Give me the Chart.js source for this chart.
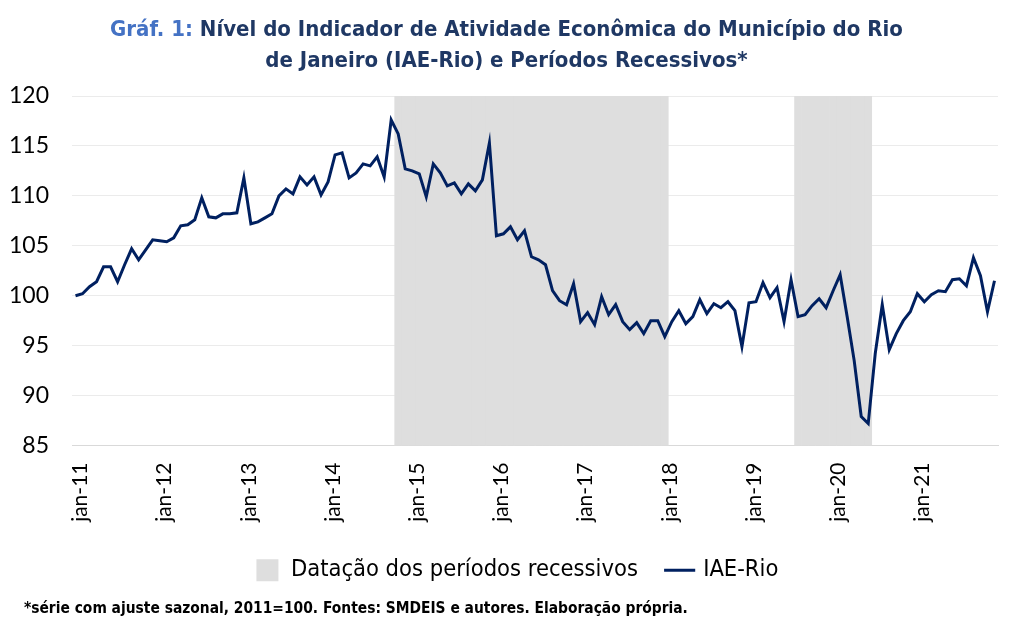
<!DOCTYPE html>
<html lang="pt-BR">
<head>
  <meta charset="UTF-8">
  <title>IAE-Rio e Períodos Recessivos</title>
  <style>
    body { margin: 0; background: #fff; overflow: hidden; }
    #wrap { position: relative; width: 1013px; height: 633px; }
    #titulo { position: absolute; left: 0; top: 13px; width: 1013px; text-align: center;
              font-family: "DejaVu Sans Condensed", sans-serif; font-weight: bold;
              font-size: 22px; line-height: 31px; color: #1F3864; }
    #titulo span { color: #4472C4; }
    #nota { position: absolute; left: 24px; top: 599px;
            font-family: "DejaVu Sans Condensed", sans-serif; font-weight: bold;
            font-size: 15.4px; color: #000; }
    #grafico { position: absolute; left: 0; top: 0; width: 1013px; height: 633px; }
  </style>
</head>
<body>
<div id="wrap">
  <div id="grafico"><canvas id="chart"></canvas></div>
  <div id="titulo"><span>Gráf. 1:</span> Nível do Indicador de Atividade Econômica do Município do Rio<br>de Janeiro (IAE-Rio) e Períodos Recessivos*</div>
  <div id="nota">*série com ajuste sazonal, 2011=100. Fontes: SMDEIS e autores. Elaboração própria.</div>
</div>

<script src="https://cdn.jsdelivr.net/npm/chart.js"></script>
<script>
  const meses = ['jan', 'fev', 'mar', 'abr', 'mai', 'jun', 'jul', 'ago', 'set', 'out', 'nov', 'dez'];
  const anos = ['11', '12', '13', '14', '15', '16', '17', '18', '19', '20', '21'];

  // IAE-Rio, série com ajuste sazonal (2011=100), jan-11 a dez-21
  const iae = [
    100.0, 100.2, 100.9, 101.4, 102.9, 102.9, 101.4, 103.1, 104.7, 103.6, 104.6, 105.6,
    105.5, 105.4, 105.8, 107.0, 107.1, 107.6, 109.8, 107.9, 107.8, 108.2, 108.2, 108.3,
    111.8, 107.2, 107.4, 107.8, 108.2, 110.0, 110.7, 110.2, 111.9, 111.1, 111.9, 110.1,
    111.4, 114.1, 114.3, 111.8, 112.3, 113.2, 113.0, 113.9, 111.9, 117.6, 116.2, 112.7,
    112.5, 112.2, 109.9, 113.2, 112.3, 111.0, 111.3, 110.2, 111.2, 110.5, 111.6, 115.3,
    106.0, 106.2, 106.9, 105.6, 106.5, 103.9, 103.6, 103.1, 100.5, 99.5, 99.1, 101.2,
    97.4, 98.3, 97.1, 99.9, 98.1, 99.1, 97.4, 96.6, 97.3, 96.2, 97.5, 97.5,
    95.9, 97.4, 98.5, 97.2, 97.9, 99.6, 98.2, 99.2, 98.8, 99.4, 98.5, 94.9,
    99.3, 99.4, 101.3, 99.8, 100.8, 97.4, 101.6, 97.9, 98.1, 99.0, 99.7, 98.8,
    100.5, 102.1, 97.9, 93.5, 87.9, 87.2, 94.2, 99.1, 94.6, 96.2, 97.5, 98.4,
    100.2, 99.4, 100.1, 100.5, 100.4, 101.6, 101.7, 101.0, 103.8, 102.0, 98.4, 101.5
  ];

  // períodos recessivos (início, fim)
  const recessoes = [['nov-14', 'jan-18'], ['ago-19', 'jun-20']];

  const yMin = 85, yMax = 120, yPasso = 5;

  const labels = [];
  anos.forEach(a => meses.forEach(m => labels.push(m + '-' + a)));

  const faixa = labels.map((l, i) => {
    const dentro = recessoes.some(r => i >= labels.indexOf(r[0]) && i <= labels.indexOf(r[1]));
    return dentro ? yMax : null;
  });

  const fonteEixo = '"Lato", "Open Sans", sans-serif';
  const fonteLegenda = '"DejaVu Sans Condensed", sans-serif';

  // empurra a legenda um pouco para a direita, como no original
  const legendaPos = {
    id: 'legendaPos',
    afterLayout: c => { if (c.legend) c.legend.left += 36; }
  };

  new Chart(document.getElementById('chart'), {
    data: {
      labels: labels,
      datasets: [
        {
          type: 'line',
          label: 'IAE-Rio',
          data: iae,
          borderColor: '#002060',
          backgroundColor: '#002060',
          borderWidth: 3,
          pointRadius: 0,
          pointStyle: 'line',
          tension: 0
        },
        {
          type: 'bar',
          label: 'Datação dos períodos recessivos',
          data: faixa,
          backgroundColor: '#DEDEDE',
          borderWidth: 0,
          pointStyle: 'rect',
          barPercentage: 1,
          categoryPercentage: 1
        }
      ]
    },
    options: {
      responsive: true,
      maintainAspectRatio: false,
      animation: false,
      layout: { padding: { top: 96, right: 15, bottom: 41, left: 0 } },
      plugins: {
        title: { display: false },
        tooltip: { enabled: false },
        legend: {
          position: 'bottom',
          reverse: true,
          labels: {
            usePointStyle: true,
            color: '#000',
            padding: 30,
            boxHeight: 22,
            font: { family: fonteLegenda, size: 23.5 }
          }
        }
      },
      scales: {
        x: {
          offset: true,
          grid: { display: false, drawTicks: false },
          border: { display: true, color: '#D9D9D9', width: 1 },
          afterFit: s => { s.height = 83; s.paddingLeft = 0; s.paddingRight = 0; },
          ticks: {
            autoSkip: false,
            minRotation: 90,
            maxRotation: 90,
            padding: 17,
            labelOffset: 5,
            color: '#000',
            font: { family: fonteEixo, size: 21 },
            callback: (v, i) => (i % 12 === 0 ? labels[i] : '')
          }
        },
        y: {
          min: yMin,
          max: yMax,
          grid: { color: '#EBEBEB', drawTicks: false },
          border: { display: false },
          afterFit: s => { s.width = 72; },
          ticks: {
            stepSize: yPasso,
            padding: 23,
            color: '#000',
            font: { family: fonteEixo, size: 23 }
          }
        }
      }
    },
    plugins: [legendaPos]
  });
</script>
</body>
</html>
